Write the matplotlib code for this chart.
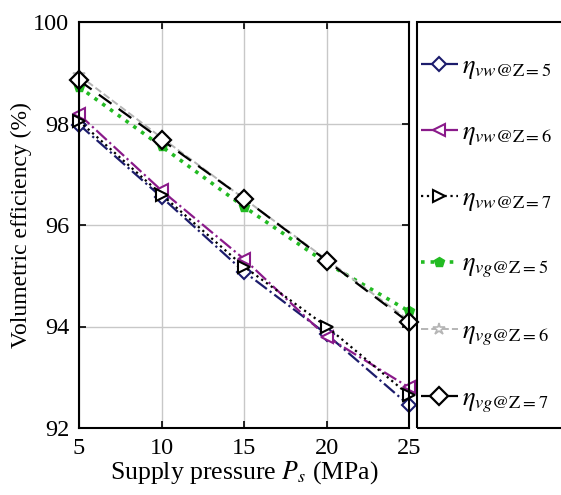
import matplotlib
matplotlib.use("Agg")
import matplotlib.pyplot as plt
from matplotlib.patches import Rectangle

plt.rcParams['font.family'] = ['Liberation Serif', 'DejaVu Serif']
plt.rcParams['mathtext.fontset'] = 'stix'

pressure = [5, 10, 15, 20, 25]
eta_vw_z5 = [97.98, 96.55, 95.08, 93.85, 92.45]
eta_vw_z6 = [98.18, 96.68, 95.33, 93.80, 92.80]
eta_vw_z7 = [98.05, 96.60, 95.18, 94.00, 92.65]
eta_vg_z5 = [98.72, 97.55, 96.36, 95.25, 94.30]
eta_vg_z6 = [98.95, 97.72, 96.52, 95.32, 94.12]
eta_vg_z7 = [98.85, 97.68, 96.52, 95.30, 94.08]

labels = [r'$\eta_{vw\mathrm{@Z=5}}$', r'$\eta_{vw\mathrm{@Z=6}}$', r'$\eta_{vw\mathrm{@Z=7}}$',
          r'$\eta_{vg\mathrm{@Z=5}}$', r'$\eta_{vg\mathrm{@Z=6}}$', r'$\eta_{vg\mathrm{@Z=7}}$']
xticks = [5, 10, 15, 20, 25]
yticks = [92, 94, 96, 98, 100]

fig = plt.figure(figsize=(5.61, 4.95), dpi=100)
ax = fig.add_axes([79/561, 1-428/495, (409-79)/561, (428-22)/495])

common = dict(clip_on=False)
ax.plot(pressure, eta_vw_z5, color='#1c1c6c', ls='-.', lw=1.6, marker='D', ms=7,
        mfc='white', mec='#1c1c6c', mew=1.5, label=labels[0], **common)
ax.plot(pressure, eta_vw_z6, color='#8a1a8a', ls='-.', lw=1.6, marker='<', ms=9,
        mfc='white', mec='#8a1a8a', mew=1.5, label=labels[1], **common)
ax.plot(pressure, eta_vw_z7, color='black', ls=':', lw=1.6, marker='>', ms=9,
        mfc='white', mec='black', mew=1.5, label=labels[2], **common)
ax.plot(pressure, eta_vg_z5, color='#22bb22', ls=':', lw=2.6, marker='p', ms=7,
        mfc='#22bb22', mec='#22bb22', label=labels[3], **common)
ax.plot(pressure, eta_vg_z6, color='#b5b5b5', ls='--', lw=1.4, marker='*', ms=9,
        mfc='white', mec='#b5b5b5', mew=1.2, label=labels[4], **common)
ax.plot(pressure, eta_vg_z7, color='black', ls=(0, (7, 4)), lw=1.6, marker='D', ms=9,
        mfc='white', mec='black', mew=1.6, label=labels[5], **common)

ax.set_xlim(5, 25)
ax.set_ylim(92, 100)
ax.set_xticks(xticks)
ax.set_yticks(yticks)
ax.grid(True, color='#c8c8c8', lw=1.0)
ax.set_axisbelow(True)
ax.tick_params(direction='in', top=True, right=True, labelsize=17.5, length=5, width=1.2, pad=7)
for s in ax.spines.values():
    s.set_linewidth(1.5)
ax.set_xlabel(r'Supply pressure $P_{s}$ (MPa)', fontsize=18.5, labelpad=0)
ax.set_ylabel('Volumetric efficiency (%)', fontsize=17, labelpad=1)

# legend box
fig.patches.append(Rectangle((417/561, 1-428/495), 0.3, (428-22)/495, transform=fig.transFigure,
                             fill=False, ec='black', lw=1.5))
fig.legend(loc='upper left', bbox_to_anchor=(421/561, 1-55/495), frameon=False,
           fontsize=19, handlelength=1.4, handletextpad=0.15, labelspacing=1.49,
           borderaxespad=0, borderpad=0)

fig.savefig('out.png', dpi=100)
